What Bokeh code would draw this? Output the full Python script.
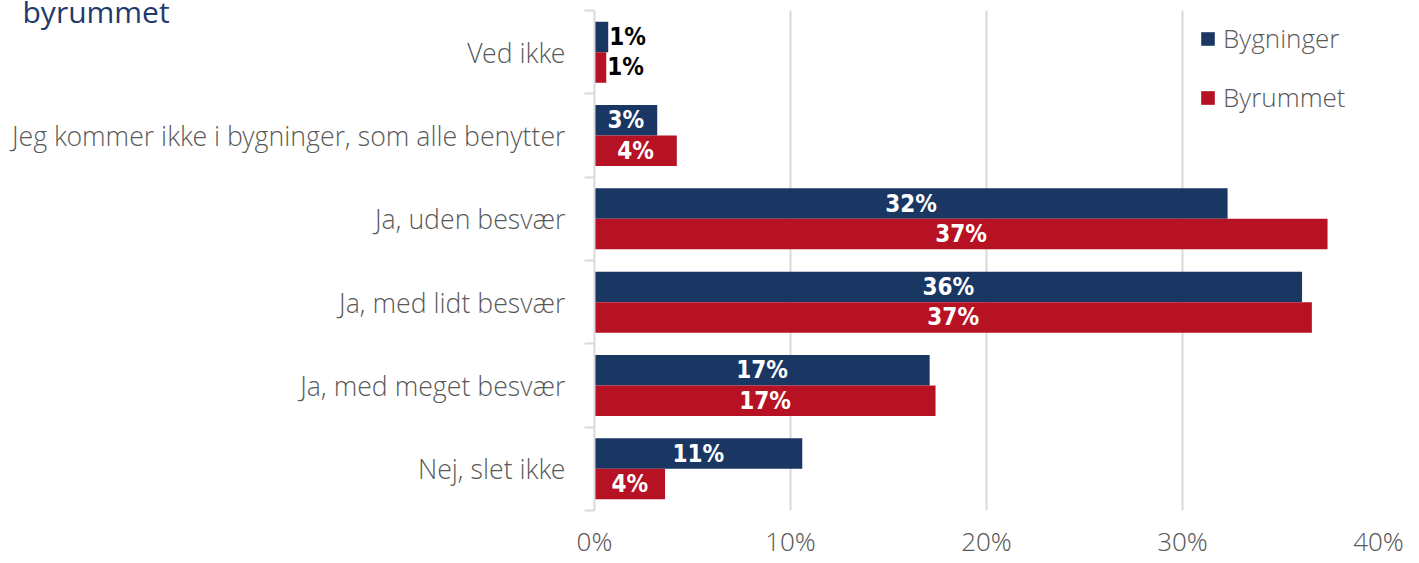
from bokeh.plotting import figure
from bokeh.models import (ColumnDataSource, FixedTicker, Legend, LegendItem, Title)
from bokeh.core.properties import value
from bokeh.embed import file_html
from bokeh.resources import INLINE
import numpy as np

# ---- data (top to bottom as in the reference) ----
categories = ["Ved ikke",
              "Jeg kommer ikke i bygninger, som alle benytter",
              "Ja, uden besvær",
              "Ja, med lidt besvær",
              "Ja, med meget besvær",
              "Nej, slet ikke"]
bygninger = [0.7, 3.2, 32.3, 36.1, 17.1, 10.6]
byrummet = [0.6, 4.2, 37.4, 36.6, 17.4, 3.6]
series_names = ["Bygninger", "Byrummet"]
x_ticks = [0, 10, 20, 30, 40]
x_tick_labels = ["0%", "10%", "20%", "30%", "40%"]
title_text = "byrummet"

BLUE = "#1A3763"
RED = "#B71124"
GRID = "#D9D9D9"
TXT = "#595959"
LIGHT_FONT = "'Open Sans Light', 'Open Sans', sans-serif"
COND_FONT = "'Liberation Sans Narrow', 'DejaVu Sans Condensed', 'Roboto Condensed', 'Roboto', sans-serif"

n = len(categories)
centers = np.array([n - 0.5 - i for i in range(n)])
bar_h = 0.366

src_b = ColumnDataSource(dict(y=centers + bar_h / 2, v=bygninger,
                              lab=[f"{round(v):.0f}%" for v in bygninger]))
src_r = ColumnDataSource(dict(y=centers - bar_h / 2, v=byrummet,
                              lab=[f"{round(v):.0f}%" for v in byrummet]))

W, H = 1411, 563
p = figure(width=W, height=H, x_range=(0, 40), y_range=(0, n),
           output_backend="svg", toolbar_location=None,
           min_border_left=594, min_border_right=W - 1378, min_border_top=10,
           min_border_bottom=H - 510)
p.outline_line_color = None
p.background_fill_color = "white"

rb = p.hbar(y="y", right="v", left=0, height=bar_h, source=src_b,
            fill_color=BLUE, line_color=None)
rr = p.hbar(y="y", right="v", left=0, height=bar_h, source=src_r,
            fill_color=RED, line_color=None)

for src in (src_b, src_r):
    d = src.data
    inside = [v >= 2 for v in d["v"]]
    s_in = ColumnDataSource(dict(x=[v / 2 for v, k in zip(d["v"], inside) if k],
                                 y=[y for y, k in zip(d["y"], inside) if k],
                                 t=[t for t, k in zip(d["lab"], inside) if k]))
    s_out = ColumnDataSource(dict(x=[v for v, k in zip(d["v"], inside) if not k],
                                  y=[y for y, k in zip(d["y"], inside) if not k],
                                  t=[t for t, k in zip(d["lab"], inside) if not k]))
    p.text(x="x", y="y", text="t", source=s_in, text_align="center",
           text_baseline="middle", text_color="white",
           text_font=value(COND_FONT), text_font_style="bold",
           text_font_size="24px")
    p.text(x="x", y="y", text="t", source=s_out, text_align="left",
           text_baseline="middle", text_color="black", x_offset=1,
           text_font=value(COND_FONT), text_font_style="bold",
           text_font_size="24px")

# x axis
p.xaxis.ticker = FixedTicker(ticks=x_ticks)
p.xaxis.major_label_overrides = {t: l for t, l in zip(x_ticks, x_tick_labels)}
p.xaxis.axis_line_color = None
p.xaxis.major_tick_line_color = None
p.xaxis.minor_tick_line_color = None
p.xaxis.major_tick_out = 0
p.xaxis.major_tick_in = 0
p.xaxis.minor_tick_out = 0
p.xaxis.major_label_text_font = LIGHT_FONT
p.xaxis.major_label_text_font_size = "26px"
p.xaxis.major_label_text_color = TXT
p.xaxis.major_label_standoff = 12

# y axis
p.yaxis.ticker = FixedTicker(ticks=list(centers), minor_ticks=list(range(n + 1)))
p.yaxis.major_label_overrides = {float(c): cat for c, cat in zip(centers, categories)}
p.yaxis.axis_line_color = GRID
p.yaxis.axis_line_width = 2
p.yaxis.major_tick_line_color = None
p.yaxis.minor_tick_line_color = GRID
p.yaxis.minor_tick_line_width = 2
p.yaxis.minor_tick_out = 10
p.yaxis.minor_tick_in = 0
p.yaxis.major_label_text_font = LIGHT_FONT
p.yaxis.major_label_text_font_size = "26.7px"
p.yaxis.major_label_text_color = TXT
p.yaxis.major_label_standoff = 19

p.ygrid.grid_line_color = None
p.xgrid.ticker = FixedTicker(ticks=x_ticks[1:])
p.xgrid.grid_line_color = GRID
p.xgrid.grid_line_width = 2

legend = Legend(items=[LegendItem(label=series_names[0], renderers=[rb]),
                       LegendItem(label=series_names[1], renderers=[rr])],
                location=(605, 395), orientation="vertical",
                padding=0, margin=0, spacing=23,
                glyph_width=17, glyph_height=17, label_height=26,
                label_standoff=7,
                label_text_font=LIGHT_FONT, label_text_font_size="26px",
                label_text_color=TXT, border_line_color=None,
                background_fill_alpha=0)
p.add_layout(legend, "center")

title = Title(text=title_text, text_font="'Open Sans', sans-serif",
              text_font_size="30px", text_color="#1F3B6B", text_font_style="normal",
              align="left", offset=22 - 594, standoff=-42, vertical_align="bottom")
p.add_layout(title, "above")

open("out.html", "w").write(file_html(p, INLINE))
